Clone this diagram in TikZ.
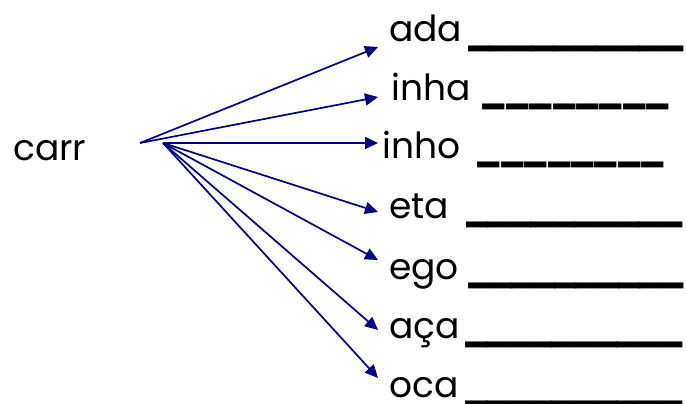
\documentclass[tikz,border=0pt]{standalone}
\usepackage{fontspec}
\setmainfont{Poppins}
\usepackage{tikz}
\usetikzlibrary{arrows.meta}
\definecolor{ArrowNavy}{HTML}{000080}
\newcommand{\blankline}[1]{\raisebox{-2pt}{\hbox to #1{\xleaders\hbox{\kern-3.5pt\bfseries\_\kern-3.5pt}\hfill}}}

\begin{document}
\begin{tikzpicture}[x=1pt, y=-1pt, every node/.style={font=\fontsize{36}{40}\selectfont, inner sep=0pt}]
  \tikzstyle{word}=[anchor=base west]
  \tikzstyle{fan}=[-{Triangle[length=13pt, width=12pt]}, line width=1.7pt, color=ArrowNavy]
  \useasboundingbox (0,0) rectangle (686,404);
  \node[word] (carr) at (13,160) {carr};
  \coordinate (hubtop) at (140,143);
  \coordinate (hubmid) at (163,143);
  % suffixes and blanks
  \node[word] (ada) at (389,42) {ada};
  \node[word] (inha) at (391,100) {inha};
  \node[word] (inho) at (382,158) {inho};
  \node[word] (eta) at (389,218) {eta};
  \node[word] (ego) at (389,279) {ego};
  \node[word] (aca) at (389,338) {aça};
  \node[word] (oca) at (389,397) {oca};
  \node[word] (adablank) at (468,42) {\blankline{215pt}};
  \node[word] (inhablank) at (481,100) {\blankline{189pt}};
  \node[word] (inhoblank) at (476,158) {\blankline{189pt}};
  \node[word] (etablank) at (466,218) {\blankline{216pt}};
  \node[word] (egoblank) at (469,279) {\blankline{214pt}};
  \node[word] (acablank) at (465,338) {\blankline{217pt}};
  \node[word] (ocablank) at (465,397) {\blankline{217pt}};
  % arrow tips
  \coordinate (toada) at (378,47);
  \coordinate (toinha) at (378,97);
  \coordinate (toinho) at (378,143);
  \coordinate (toeta) at (378,212);
  \coordinate (toego) at (378,260);
  \coordinate (toaca) at (378,330);
  \coordinate (tooca) at (378,378);
  \draw[fan] (hubtop) -- (toada);
  \draw[fan] (hubtop) -- (toinha);
  \draw[fan] (hubmid) -- (toinho);
  \draw[fan] (hubmid) -- (toeta);
  \draw[fan] (hubmid) -- (toego);
  \draw[fan] (hubmid) -- (toaca);
  \draw[fan] (hubmid) -- (tooca);
\end{tikzpicture}
\end{document}
